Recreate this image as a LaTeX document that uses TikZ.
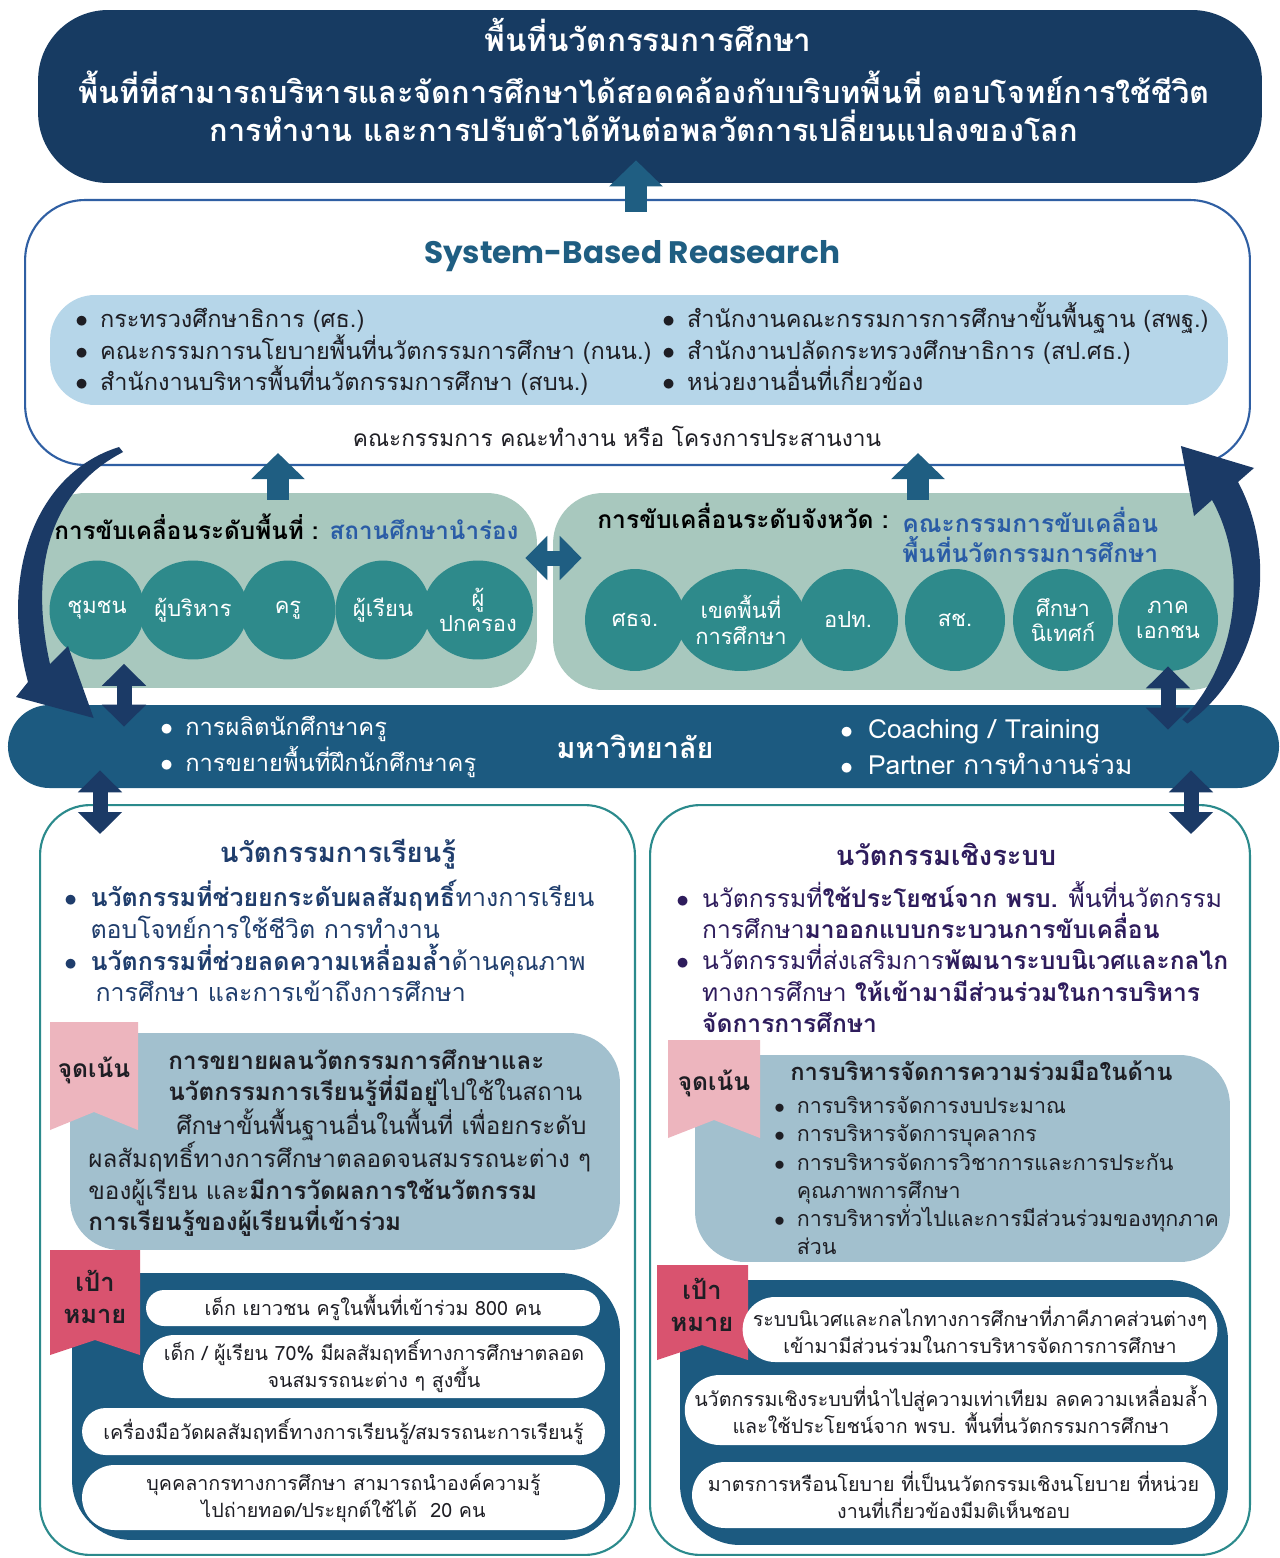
\documentclass[tikz,border=0pt]{standalone}
\usepackage{fontspec}
\setmainfont{Loma}[Script=Thai]
\newfontfamily\enfont{Poppins}
\usepackage{tikz}
\usetikzlibrary{calc,arrows.meta}
\usetikzlibrary{shapes.geometric,shapes.misc}

\definecolor{bannerblue}{HTML}{173B62}
\definecolor{arrowblue}{HTML}{1F5E82}
\definecolor{barblue}{HTML}{1C5A80}
\definecolor{arrownavy}{HTML}{1B3A66}
\definecolor{sage}{HTML}{A8C8BE}
\definecolor{tealdot}{HTML}{2E8A8B}
\definecolor{tealline}{HTML}{2B8A8C}
\definecolor{skyfill}{HTML}{B6D6E9}
\definecolor{greyblue}{HTML}{A2C0CE}
\definecolor{ribbonpink}{HTML}{EDB5BE}
\definecolor{ribbonred}{HTML}{D9536F}
\definecolor{titlenavy}{HTML}{1F3D6C}
\definecolor{deeppurple}{HTML}{2E1C5C}
\definecolor{textblue}{HTML}{2A5CA6}
\definecolor{sysline}{HTML}{2F5FA3}
\definecolor{inkgrey}{HTML}{1E1E24}

\newcommand\bitem{\makebox[1.05em][l]{$\bullet$}}
\newcommand\bcont{\hspace*{1.05em}}

\tikzset{
  bub/.style={ellipse, fill=tealdot, text=white, inner sep=0pt, align=center,
    font=\fontsize{12.5}{14.5}\selectfont},
  pill/.style={rounded rectangle, fill=white, inner sep=0pt, align=center,
    text=inkgrey, font=\fontsize{11.2}{15.3}\selectfont},
  bodytext/.style={anchor=west, align=left, inner sep=0pt},
  uparrow/.style={draw=arrowblue, line width=0.44cm,
    -{Triangle[width=1.04cm,length=0.52cm]}},
  twoway/.style={line width=0.3cm,
    {Triangle[width=0.86cm,length=0.44cm]}-{Triangle[width=0.86cm,length=0.44cm]}},
}

\begin{document}
\begin{tikzpicture}[x=0.02cm, y=-0.02cm]
  \useasboundingbox (0,0) rectangle (1279,1558);
  \fill[white] (0,0) rectangle (1279,1558);

  % Rows
  \newcommand\spotY{610}      % = local row
  \newcommand\provY{620}      % = province row

  % Banner
  \node[fill=bannerblue, rounded corners=1.4cm, minimum width=24.48cm, minimum height=3.46cm] (banner) at (650,96.5) {};
  \node[text=white, font=\fontsize{17.9}{21.5}\selectfont\bfseries] (bannerT) at (648,35) {พื้นที่นวัตกรรมการศึกษา};
  \node[text=white, align=center, font=\fontsize{17.5}{21.5}\selectfont\bfseries] (bannerL) at (644,106)
    {พื้นที่ที่สามารถบริหารและจัดการศึกษาได้สอดคล้องกับบริบทพื้นที่ ตอบโจทย์การใช้ชีวิต\\
     การทำงาน และการปรับตัวได้ทันต่อพลวัตการเปลี่ยนแปลงของโลก};

  % System-Based
  \node[draw=sysline, line width=1.2pt, fill=white, rounded corners=1.2cm, minimum width=24.5cm, minimum height=5.3cm] (sys) at (637.5,332.5) {};
  \node[text=arrowblue, font=\enfont\fontsize{17.7}{20}\selectfont\bfseries] (sysT) at (632,256) {System-Based Reasearch};
  \node[fill=skyfill, rounded corners=0.9cm, minimum width=23.56cm, minimum height=2.2cm] (orgs) at (639,350) {};
  \node[bodytext, text=inkgrey, font=\fontsize{13.4}{17.9}\selectfont] (orgsA) at (75,352)
    {\bitem กระทรวงศึกษาธิการ (ศธ.)\\
     \bitem คณะกรรมการนโยบายพื้นที่นวัตกรรมการศึกษา (กนน.)\\
     \bitem สำนักงานบริหารพื้นที่นวัตกรรมการศึกษา (สบน.)};
  \node[bodytext, text=inkgrey, font=\fontsize{13.4}{17.9}\selectfont] (orgsB) at (662,347)
    {\bitem สำนักงานคณะกรรมการการศึกษาขั้นพื้นฐาน (สพฐ.)\\
     \bitem สำนักงานปลัดกระทรวงศึกษาธิการ (สป.ศธ.)\\
     \bitem หน่วยงานอื่นที่เกี่ยวข้อง};
  \node[text=inkgrey, font=\fontsize{12.9}{16}\selectfont] (coord) at (617,436) {คณะกรรมการ คณะทำงาน หรือ โครงการประสานงาน};
  \draw[uparrow] ($(sys.north)+(-1.5,13)$) -- ($(banner.south)+(-14,-23)$);

  % Zones
  \node[fill=sage, rounded corners=1cm, minimum width=10.04cm, minimum height=3.9cm] (spot) at (286,590.5) {};
  \node[fill=sage, rounded corners=1cm, minimum width=13.74cm, minimum height=3.94cm] (prov) at (896.5,591.5) {};
  \node[bodytext, font=\fontsize{13.8}{16}\selectfont\bfseries] (spotT) at (54,527)
    {การขับเคลื่อนระดับพื้นที่ : \textcolor{textblue}{สถานศึกษานำร่อง}};
  \node[bodytext, font=\fontsize{14}{16}\selectfont\bfseries] (provT) at (597,516) {การขับเคลื่อนระดับจังหวัด :};
  \node[bodytext, text=textblue, font=\fontsize{14}{17}\selectfont\bfseries] (provB) at (902,535)
    {คณะกรรมการขับเคลื่อน\\พื้นที่นวัตกรรมการศึกษา};
  \foreach \x/\who [count=\i] in {97/ชุมชน, 193/ผู้บริหาร, 288/ครู, 383/ผู้เรียน, 478/{ผู้\\ปกครอง}} {
    \node[bub, minimum width=1.9cm, minimum height=1.98cm] (p\i) at (\x,\spotY) {\who};
  }
  \foreach \x/\who [count=\i] in {635/ศธจ., 741/{เขตพื้นที่\\การศึกษา}, 848/อปท., 955/สช., 1063/{ศึกษา\\นิเทศก์}, 1168/{ภาค\\เอกชน}} {
    \node[bub, minimum width=2cm, minimum height=2.04cm] (d\i) at (\x,\provY) {\who};
  }
  \draw[uparrow] ($(spot.north)+(-8,7)$) -- ($(spot.north |- sys.south)+(-8,-13)$);
  \draw[uparrow] ($(prov.north)+(21.5,7)$) -- ($(prov.north |- sys.south)+(21.5,-13)$);
  \draw[twoway, arrowblue] ($(spot.east)+(-12,-32.5)$) -- ($(prov.west)+(29,-33.5)$);

  % University
  \node[rounded rectangle, fill=barblue, minimum width=25.66cm, minimum height=1.66cm] (univ) at (643.5,746.5) {};
  \node[bodytext, text=white, font=\fontsize{13.5}{20.4}\selectfont] (univA) at (160,747)
    {\bitem การผลิตนักศึกษาครู\\ \bitem การขยายพื้นที่ฝึกนักศึกษาครู};
  \node[text=white, font=\fontsize{16.4}{18}\selectfont\bfseries] (univT) at (635,747) {มหาวิทยาลัย};
  \node[bodytext, text=white, font=\fontsize{15}{20.4}\selectfont] (univB) at (840,747)
    {\bitem Coaching / Training\\ \bitem Partner การทำงานร่วม};

  % Curved arrows
  \coordinate (lstart) at ($(sys.south west)+(95,-19)$);
  \coordinate (ltip) at ($(univ.west)+(86,-28.5)$);
  \fill[arrownavy] (lstart) .. controls (38,472) and (-2,570) .. (28,682) -- (16,697) -- (ltip)
    -- (68,646) -- (50,664) .. controls (30,575) and (46,492) .. ($(lstart)+(4,5)$) -- cycle;
  \coordinate (rstart) at ($(univ.east)+(-92,-23)$);
  \coordinate (rtip) at ($(sys.south east)+(-70,-20)$);
  \fill[arrownavy] (rstart) .. controls (1262,670) and (1280,560) .. (1238,482) -- (1254,468)
    -- (rtip) -- (1194,516) -- (1212,500) .. controls (1248,565) and (1240,660) .. ($(rstart)+(-5,-4)$) -- cycle;

  % Lower boxes
  \node[draw=tealline, line width=1.2pt, fill=white, rounded corners=1cm, minimum width=11.9cm, minimum height=15cm] (lbox) at (337.5,1180) {};
  \node[draw=tealline, line width=1.2pt, fill=white, rounded corners=1cm, minimum width=12cm, minimum height=15cm] (rbox) at (950,1180) {};

  % Learning side
  \node[text=titlenavy, font=\fontsize{15.6}{17}\selectfont\bfseries] (learnT) at (338,854) {นวัตกรรมการเรียนรู้};
  \node[bodytext, text=titlenavy, font=\fontsize{14.2}{18.1}\selectfont] (learnB) at (64,941)
    {\bitem\textbf{นวัตกรรมที่ช่วยยกระดับผลสัมฤทธิ์}ทางการเรียน\\
     \bcont ตอบโจทย์การใช้ชีวิต การทำงาน\\
     \bitem\textbf{นวัตกรรมที่ช่วยลดความเหลื่อมล้ำ}ด้านคุณภาพ\\
     \bcont\hspace*{0.2em}การศึกษา และการเข้าถึงการศึกษา};
  \node[fill=greyblue, rounded corners=1cm, minimum width=11cm, minimum height=4.34cm] (learnF) at (345,1141.5) {};
  \fill[ribbonpink] (50,1022) -- (138,1022) -- (138,1130) -- (94,1112) -- (50,1130) -- cycle;
  \node[text=inkgrey, font=\fontsize{14}{16}\selectfont\bfseries] (learnFR) at (94,1070) {จุดเน้น};
  \node[bodytext, text=inkgrey, font=\fontsize{13.8}{17.9}\selectfont] (learnFT) at (88,1143)
    {\hspace*{1.6cm}\textbf{การขยายผลนวัตกรรมการศึกษาและ}\\
     \hspace*{1.6cm}\textbf{นวัตกรรมการเรียนรู้ที่มีอยู่}ไปใช้ในสถาน\\
     \hspace*{1.76cm}ศึกษาขั้นพื้นฐานอื่นในพื้นที่ เพื่อยกระดับ\\
     ผลสัมฤทธิ์ทางการศึกษาตลอดจนสมรรถนะต่าง ๆ\\
     ของผู้เรียน และ\textbf{มีการวัดผลการใช้นวัตกรรม}\\
     \textbf{การเรียนรู้ของผู้เรียนที่เข้าร่วม}};
  \node[fill=barblue, rounded corners=1.2cm, minimum width=10.96cm, minimum height=5.34cm] (learnG) at (346,1406.5) {};
  \fill[ribbonred] (50,1250) -- (140,1250) -- (140,1355) -- (95,1340) -- (50,1355) -- cycle;
  \node[text=inkgrey, align=center, font=\fontsize{14.5}{18.5}\selectfont\bfseries] (learnGR) at (95,1297) {เป้า\\หมาย};
  \node[pill, minimum width=9.08cm, minimum height=0.72cm] (lg1) at (373,1308) {เด็ก เยาวชน ครูในพื้นที่เข้าร่วม 800 คน};
  \node[pill, minimum width=9.24cm, minimum height=1.26cm] (lg2) at (374,1366.5) {เด็ก / ผู้เรียน 70\% มีผลสัมฤทธิ์ทางการศึกษาตลอด\\จนสมรรถนะต่าง ๆ สูงขึ้น};
  \node[pill, minimum width=10.46cm, minimum height=0.94cm] (lg3) at (343.5,1431.5) {เครื่องมือวัดผลสัมฤทธิ์ทางการเรียนรู้/สมรรถนะการเรียนรู้};
  \node[pill, minimum width=10.46cm, minimum height=1.3cm] (lg4) at (343.5,1497.5) {บุคคลากรทางการศึกษา สามารถนำองค์ความรู้\\ไปถ่ายทอด/ประยุกต์ใช้ได้~~20 คน};

  % System side
  \node[text=deeppurple, font=\fontsize{15.5}{17}\selectfont\bfseries] (systT) at (946,854) {นวัตกรรมเชิงระบบ};
  \node[bodytext, text=deeppurple, font=\fontsize{14}{17.9}\selectfont] (systB) at (676,957)
    {\bitem นวัตกรรมที่\textbf{ใช้ประโยชน์จาก พรบ.} พื้นที่นวัตกรรม\\
     \bcont การศึกษา\textbf{มาออกแบบกระบวนการขับเคลื่อน}\\
     \bitem นวัตกรรมที่ส่งเสริมการ\textbf{พัฒนาระบบนิเวศและกลไก}\\
     \bcont ทางการศึกษา \textbf{ให้เข้ามามีส่วนร่วมในการบริหาร}\\
     \bcont\textbf{จัดการการศึกษา}};
  \node[fill=greyblue, rounded corners=1cm, minimum width=10.7cm, minimum height=4.14cm] (systF) at (962.5,1158.5) {};
  \fill[ribbonpink] (668,1040) -- (760,1040) -- (760,1138) -- (714,1120) -- (668,1138) -- cycle;
  \node[text=inkgrey, font=\fontsize{14}{16}\selectfont\bfseries] (systFR) at (714,1083) {จุดเน้น};
  \node[bodytext, text=inkgrey, font=\fontsize{13.5}{16}\selectfont\bfseries] (systFH) at (790,1071) {การบริหารจัดการความร่วมมือในด้าน};
  \node[bodytext, text=inkgrey, font=\fontsize{12.2}{16}\selectfont] (systFT) at (774,1175.5)
    {\bitem การบริหารจัดการงบประมาณ\\
     \bitem การบริหารจัดการบุคลากร\\
     \bitem การบริหารจัดการวิชาการและการประกัน\\
     \bcont คุณภาพการศึกษา\\
     \bitem การบริหารทั่วไปและการมีส่วนร่วมของทุกภาค\\
     \bcont ส่วน};
  \node[fill=barblue, rounded corners=1.2cm, minimum width=10.96cm, minimum height=5.3cm] (systG) at (954,1412.5) {};
  \fill[ribbonred] (657,1265) -- (748,1265) -- (748,1360) -- (702,1345) -- (657,1360) -- cycle;
  \node[text=inkgrey, align=center, font=\fontsize{14.5}{18.5}\selectfont\bfseries] (systGR) at (702,1305) {เป้า\\หมาย};
  \node[pill, minimum width=9cm, minimum height=1.3cm] (sg1) at (980,1329.5) {ระบบนิเวศและกลไกทางการศึกษาที่ภาคีภาคส่วนต่างๆ\\เข้ามามีส่วนร่วมในการบริหารจัดการการศึกษา};
  \node[pill, minimum width=10.36cm, minimum height=1.4cm] (sg2) at (951,1410) {นวัตกรรมเชิงระบบที่นำไปสู่ความเท่าเทียม ลดความเหลื่อมล้ำ\\และใช้ประโยชน์จาก พรบ. พื้นที่นวัตกรรมการศึกษา};
  \node[pill, minimum width=10.46cm, minimum height=1.32cm] (sg3) at (953.5,1495) {มาตรการหรือนโยบาย ที่เป็นนวัตกรรมเชิงนโยบาย ที่หน่วย\\งานที่เกี่ยวข้องมีมติเห็นชอบ};

  % Links
  \draw[twoway, arrownavy] ($(p1.south)+(27,4)$) -- ($(p1.south |- univ.north)+(27,22)$);
  \draw[twoway, arrownavy] ($(d6.south)+(0,-5)$) -- ($(d6.south |- univ.north)+(0,25)$);
  \draw[twoway, arrownavy] ($(univ.south -| lbox.west)+(61,-18)$) -- ($(lbox.north west)+(61,30)$);
  \draw[twoway, arrownavy] ($(univ.south -| rbox.east)+(-60,-18)$) -- ($(rbox.north east)+(-60,30)$);

\end{tikzpicture}
\end{document}
